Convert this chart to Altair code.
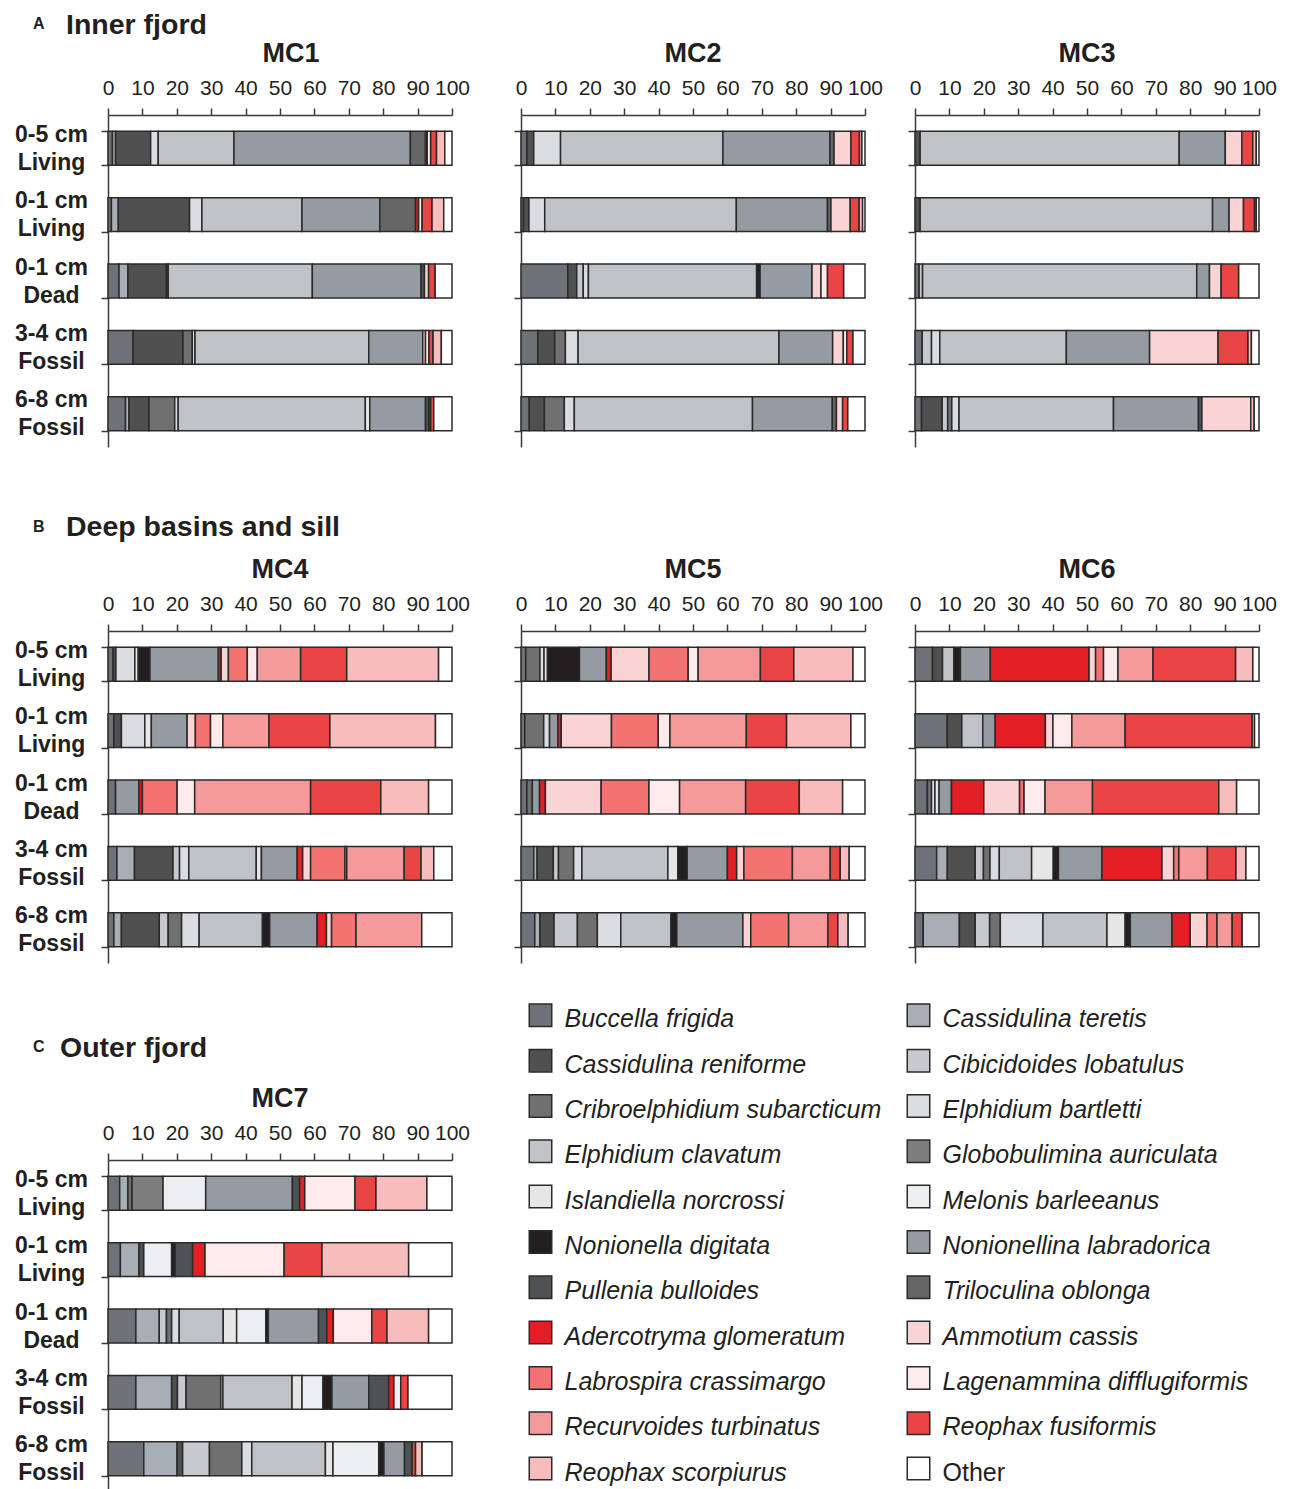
import altair as alt
import pandas as pd

INK = "#231f20"
FONT = "Liberation Sans"

# ---- species (stack order) ----
codes = ["Bf", "Ct", "Cr", "Cl", "Cs", "Eb", "Ec", "Ga", "In", "Mb", "Nd", "Nl", "Pb", "To",
         "Ag", "Ac", "Lc", "Ld", "Rt", "Rf", "Rs", "Ot"]
names = ["Buccella frigida", "Cassidulina teretis", "Cassidulina reniforme", "Cibicidoides lobatulus",
         "Cribroelphidium subarcticum", "Elphidium bartletti", "Elphidium clavatum",
         "Globobulimina auriculata", "Islandiella norcrossi", "Melonis barleeanus",
         "Nonionella digitata", "Nonionellina labradorica", "Pullenia bulloides", "Triloculina oblonga",
         "Adercotryma glomeratum", "Ammotium cassis", "Labrospira crassimargo",
         "Lagenammina difflugiformis", "Recurvoides turbinatus", "Reophax fusiformis",
         "Reophax scorpiurus", "Other"]
colors = ["#6c7277", "#a8aeb5", "#505050", "#c6c9cd", "#707070", "#d9dce0", "#bfc3c7",
          "#7d7d7d", "#e6e6e6", "#eceef1", "#231f20", "#959ba2", "#4f5254", "#666666",
          "#e31e24", "#fad4d4", "#f37272", "#fdeaea", "#f49a9a", "#ea4545", "#f8bcbc", "#ffffff"]

rows = ["0-5 cm|Living", "0-1 cm|Living", "0-1 cm|Dead", "3-4 cm|Fossil", "6-8 cm|Fossil"]

# ---- values (% per row, rows in order above) ----
MC1 = {"Bf": [1.3, 1.0, 3.2, 7.3, 5.1], "Ct": [0.9, 2.0, 2.6, 0, 1.0], "Cr": [10.2, 20.7, 11.2, 14.5, 5.8],
       "Cs": [0, 0, 0.5, 2.7, 7.5], "Eb": [2.2, 3.6, 0, 0.8, 1.0], "Ec": [22.0, 29.1, 41.9, 50.5, 54.4],
       "In": [0, 0, 0, 0, 1.3], "Nl": [51.3, 22.6, 31.6, 15.7, 16.2], "Pb": [0, 0, 1.0, 0, 1.0],
       "To": [4.4, 10.4, 0, 0, 0], "Ag": [0.5, 0.9, 0, 0, 0.5], "Ac": [0, 0, 1.2, 0.8, 0],
       "Ld": [1.0, 1.0, 0, 1.0, 0], "Rf": [1.7, 2.9, 1.9, 1.2, 0.9], "Rs": [2.4, 3.4, 0, 2.4, 0],
       "Ot": [2.1, 2.4, 4.9, 3.1, 5.3]}
MC2 = {"Bf": [1.7, 0.7, 13.6, 4.9, 2.4], "Cr": [2.0, 1.6, 2.6, 4.9, 4.4], "Cl": [0, 0, 1.9, 0, 0],
       "Cs": [0, 0, 0, 3.1, 5.8], "Eb": [7.8, 4.6, 1.5, 3.7, 2.9], "Ec": [47.2, 55.7, 48.9, 58.4, 51.8],
       "Nd": [0, 0, 1.0, 0, 0], "Nl": [31.1, 26.5, 15.1, 15.6, 23.2], "To": [1.2, 1.0, 0, 0, 1.2],
       "Ac": [4.9, 5.6, 2.6, 3.1, 1.8], "Ld": [0, 0, 1.9, 1.0, 0], "Rf": [2.5, 2.6, 4.7, 1.8, 1.5],
       "Rs": [0.7, 1.0, 0, 0, 0], "Ot": [0.9, 0.7, 6.2, 3.5, 5.0]}
MC3 = {"Bf": [0, 0, 1.2, 2.1, 1.9], "Cr": [1.5, 1.5, 0, 0, 6.0], "Cl": [0, 0, 1.0, 2.7, 1.6],
       "Cs": [0, 0, 0, 0, 1.2], "Eb": [0, 0, 0, 2.4, 2.1], "Ec": [75.3, 85.0, 79.7, 36.8, 44.9],
       "Nl": [13.4, 4.8, 3.7, 24.2, 24.7], "Pb": [0, 0, 0, 0, 1.0], "Ac": [4.8, 4.2, 3.4, 19.9, 14.2],
       "Rf": [3.2, 3.2, 5.1, 8.7, 0], "Rs": [1.0, 0.5, 0, 1.0, 1.0], "Ot": [0.8, 0.8, 5.9, 2.2, 1.4]}
MC4 = {"Bf": [1.5, 1.7, 2.2, 2.6, 1.7], "Ct": [0, 0, 0, 5.1, 2.2], "Cr": [0.8, 2.2, 0, 11.2, 11.0],
       "Cl": [0, 0, 0, 1.9, 2.6], "Cs": [0, 0, 0, 0, 3.9], "Eb": [5.5, 6.8, 0, 2.7, 5.1],
       "Ec": [0, 0, 0, 19.6, 18.4], "In": [1.0, 1.9, 0, 1.5, 0], "Nd": [3.4, 0, 0, 0, 2.1],
       "Nl": [19.9, 10.4, 6.8, 10.4, 13.8], "Ag": [0.8, 0, 1.0, 1.6, 2.7], "Ac": [2.1, 2.4, 0, 2.3, 1.5],
       "Lc": [5.5, 4.4, 10.1, 10.0, 7.1], "Ld": [2.9, 3.6, 5.1, 0.5, 0], "Rt": [12.6, 13.4, 33.7, 16.7, 19.1],
       "Rf": [13.4, 17.7, 20.4, 4.9, 0], "Rs": [26.7, 30.7, 13.9, 3.7, 0], "Ot": [3.9, 4.8, 6.8, 5.3, 8.8]}
MC5 = {"Bf": [1.4, 1.1, 1.7, 3.7, 4.0], "Ct": [0, 0, 0, 1.0, 1.5], "Cr": [0, 0, 0, 4.7, 4.1],
       "Cl": [0, 0, 0, 1.5, 6.8], "Cs": [4.1, 5.5, 1.6, 4.4, 5.8], "Eb": [1.2, 1.7, 0, 2.4, 6.8],
       "Ec": [0, 0, 0, 25.0, 14.6], "In": [1.0, 0, 0, 2.9, 0], "Nd": [9.3, 0, 0, 2.7, 1.7],
       "Nl": [7.8, 2.4, 2.1, 11.7, 19.2], "Ag": [1.4, 1.0, 1.7, 2.7, 0], "Ac": [11.0, 14.6, 16.2, 2.1, 2.3],
       "Lc": [11.4, 13.6, 13.9, 14.1, 11.0], "Ld": [2.9, 3.4, 8.9, 0, 0], "Rt": [18.1, 22.2, 19.2, 11.0, 11.4],
       "Rf": [9.7, 11.7, 15.6, 2.9, 2.9], "Rs": [17.2, 18.7, 12.6, 2.6, 3.0], "Ot": [3.5, 4.1, 6.5, 4.6, 4.9]}
MC6 = {"Bf": [5.1, 9.4, 3.6, 6.3, 2.4], "Ct": [0, 0, 0, 3.1, 10.5], "Cr": [2.9, 4.2, 0, 8.1, 4.6],
       "Cl": [0, 0, 0, 2.4, 4.2], "Cs": [0, 0, 1.2, 1.9, 3.1], "Eb": [0, 0, 1.0, 2.7, 12.4],
       "Ec": [3.3, 6.1, 0, 9.4, 18.6], "In": [0, 0, 1.2, 6.3, 5.3], "Nd": [1.9, 0, 0, 1.5, 1.5],
       "Nl": [8.7, 3.6, 3.6, 12.6, 12.1], "Ag": [28.7, 14.6, 9.4, 17.5, 5.3], "Ac": [1.9, 2.2, 10.4, 3.4, 4.9],
       "Lc": [2.3, 0, 1.3, 1.5, 2.9], "Ld": [4.2, 5.5, 6.1, 0, 0], "Rt": [10.2, 15.5, 13.8, 8.3, 4.4],
       "Rf": [24.0, 36.9, 36.7, 8.3, 2.9], "Rs": [5.0, 0.7, 5.2, 2.9, 0], "Ot": [1.8, 1.3, 6.5, 3.8, 4.9]}
MC7 = {"Bf": [3.4, 3.6, 8.1, 8.1, 10.4], "Ct": [2.4, 5.4, 6.8, 10.4, 9.7], "Cr": [0, 1.4, 0, 1.7, 1.6],
       "Cl": [0, 0, 2.1, 2.5, 7.8], "Cs": [1.2, 0, 1.5, 10.1, 9.4], "Eb": [0, 0, 2.2, 0.6, 2.9],
       "Ec": [0, 0, 12.8, 20.1, 21.4], "Ga": [9.0, 0, 0, 0, 0], "In": [0, 0, 3.9, 2.9, 2.2],
       "Mb": [12.4, 8.1, 8.5, 6.1, 13.3], "Nd": [0, 1.0, 0.7, 2.6, 1.5], "Nl": [25.2, 0, 14.6, 10.7, 6.0],
       "Pb": [2.1, 5.1, 2.4, 5.8, 2.2], "Ag": [1.5, 3.6, 1.9, 1.5, 0], "Ld": [14.6, 23.0, 11.2, 2.0, 0],
       "Rf": [6.1, 11.0, 4.4, 2.1, 1.0], "Rs": [14.8, 25.2, 12.1, 0, 1.9], "Ot": [7.3, 12.6, 6.8, 12.8, 8.7]}

color_scale = alt.Scale(domain=names, range=colors)


def build(table):
    recs = []
    for c, vals in table.items():
        i = codes.index(c)
        for r, v in zip(rows, vals):
            if v > 0:
                recs.append({"row": r, "species": names[i], "idx": i, "value": v})
    return pd.DataFrame(recs)


def panel(title, table, labels, tdx=0):
    xaxis = alt.Axis(orient="top", values=list(range(0, 101, 10)), title=None, grid=False,
                     labelFontSize=21, labelFont=FONT, labelColor=INK, labelFlush=False,
                     labelOverlap=False, labelPadding=10, tickSize=7, tickWidth=1.5,
                     tickColor="#3a3a3a", domainColor="#3a3a3a", domainWidth=1.5)
    yaxis = alt.Axis(title=None, tickBand="extent", tickSize=7, tickWidth=1.5, tickColor="#3a3a3a",
                     domainColor="#3a3a3a", domainWidth=1.5, labels=labels,
                     labelExpr="split(datum.label, '|')", labelAlign="center", labelBaseline="middle",
                     labelPadding=50, labelOffset=-14, labelFontSize=23, labelFontWeight="bold",
                     labelFont=FONT, labelLineHeight=28, labelColor=INK)
    return alt.Chart(build(table), title=alt.TitleParams(
        title, fontSize=27, fontWeight="bold", font=FONT, color=INK, anchor="middle", offset=9, dx=tdx)
    ).mark_bar(stroke="#2a2a2a", strokeWidth=1.5).encode(
        x=alt.X("value:Q", stack="zero", scale=alt.Scale(domain=[0, 100], nice=False), axis=xaxis),
        y=alt.Y("row:N", sort=rows, scale=alt.Scale(domain=rows, paddingInner=0.49, paddingOuter=0.245),
                axis=yaxis),
        color=alt.Color("species:N", scale=color_scale, legend=None),
        order=alt.Order("idx:Q", sort="ascending"),
    ).properties(width=344, height=332)


def blank(w=1, h=1):
    return alt.Chart(pd.DataFrame({"k": [0]})).mark_point(opacity=0).encode(
        x=alt.value(0), y=alt.value(0)).properties(width=w, height=h)


def header(letter, text, h, y_letter, y_text, xtext):
    base = alt.Chart(pd.DataFrame({"k": [0]}))
    a = base.mark_text(text=letter, fontSize=16, fontWeight="bold", font=FONT, align="left",
                       baseline="alphabetic", color=INK).encode(x=alt.value(-75), y=alt.value(y_letter))
    b = base.mark_text(text=text, fontSize=28.5, fontWeight="bold", font=FONT, align="left",
                       baseline="alphabetic", color=INK).encode(x=alt.value(xtext), y=alt.value(y_text))
    return alt.layer(a, b).properties(width=344, height=h)


# ---- legend as its own small chart ----
ldf = pd.DataFrame({"species": names, "idx": list(range(len(names)))})
ldf["col"] = ldf["idx"] % 2
ldf["r"] = ldf["idx"] // 2
lx = alt.X("col:Q", scale=alt.Scale(domain=[0, 1], range=[19.5, 397.5]), axis=None)
ly = alt.Y("r:Q", scale=alt.Scale(domain=[0, 10], range=[52.3, 505.6]), axis=None)
sq = alt.Chart(ldf).mark_square(size=506, stroke="#2a2a2a", strokeWidth=1.5, opacity=1).encode(
    x=lx, y=ly, color=alt.Color("species:N", scale=color_scale, legend=None))
lt_it = alt.Chart(ldf[ldf["species"] != "Other"]).mark_text(
    align="left", baseline="middle", dx=24, dy=4, fontSize=25, fontStyle="italic", font=FONT,
    color=INK).encode(x=lx, y=ly, text="species:N")
lt_ot = alt.Chart(ldf[ldf["species"] == "Other"]).mark_text(
    align="left", baseline="middle", dx=24, dy=4, fontSize=25, font=FONT,
    color=INK).encode(x=lx, y=ly, text="species:N")
legend = alt.layer(sq, lt_it, lt_ot).properties(width=343, height=197)

cells = [
    header("A", "Inner fjord", 104, 18, 23, -42), blank(), blank(), blank(), blank(),
    panel("MC1", MC1, True, 11), blank(69, 1), panel("MC2", MC2, False), blank(50, 1), panel("MC3", MC3, False),
    header("B", "Deep basins and sill", 184, 85, 89, -42), blank(), blank(), blank(), blank(),
    panel("MC4", MC4, True), blank(), panel("MC5", MC5, False), blank(), panel("MC6", MC6, False),
    header("C", "Outer fjord", 197, 89, 94, -48), blank(), legend, blank(), blank(),
    panel("MC7", MC7, True), blank(), blank(), blank(), blank(),
]

chart = alt.concat(*cells, columns=5, spacing=0, bounds="flush").resolve_scale(
    x="independent", y="independent"
).properties(
    padding={"left": 6, "top": 0, "right": 5, "bottom": 0}
).configure(font=FONT, view=alt.ViewConfig(stroke=None))

chart.save("out.html", embed_options={"renderer": "svg", "actions": False})
